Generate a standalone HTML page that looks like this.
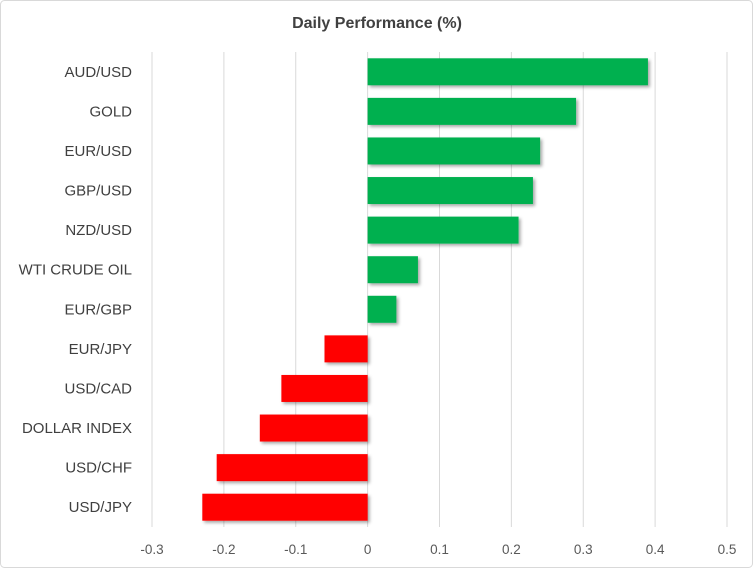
<!DOCTYPE html>
<html><head><meta charset="utf-8"><style>
html,body{margin:0;padding:0;background:#fff;}
svg{display:block;font-family:"Liberation Sans",Arial,sans-serif;}
</style></head><body>
<svg id="chart" width="753" height="568" xmlns="http://www.w3.org/2000/svg">
<defs><filter id="sh" x="-10%" y="-10%" width="130%" height="140%"><feDropShadow dx="2" dy="2" stdDeviation="1.5" flood-color="#000" flood-opacity="0.35"/></filter></defs>
<rect x="0.5" y="0.5" width="752" height="567" rx="4" fill="#fff" stroke="#d9d9d9"/>
<text x="377" y="28" text-anchor="middle" font-size="16" font-weight="bold" fill="#404040">Daily Performance  (%)</text>
<g id="grid"></g><g id="bars"></g><g id="labels"></g><g id="ticks"></g>
</svg>
<script>
const categories=["AUD/USD","GOLD","EUR/USD","GBP/USD","NZD/USD","WTI CRUDE OIL","EUR/GBP","EUR/JPY","USD/CAD","DOLLAR INDEX","USD/CHF","USD/JPY"];
const values=[0.39,0.29,0.24,0.23,0.21,0.07,0.04,-0.06,-0.12,-0.15,-0.21,-0.23];
const ticks=[-0.3,-0.2,-0.1,0,0.1,0.2,0.3,0.4,0.5];
const tickLabels=["-0.3","-0.2","-0.1","0","0.1","0.2","0.3","0.4","0.5"];
const NS="http://www.w3.org/2000/svg";
const x0=152,x1=727,vmin=-0.3,vmax=0.5,plotTop=52,plotBottom=527;
function xs(v){return x0+(v-vmin)/(vmax-vmin)*(x1-x0);}
const band=(plotBottom-plotTop)/categories.length;
function ys(i){return plotTop+band*i+band/2;}
function mk(t,a,p){const e=document.createElementNS(NS,t);for(const k in a)e.setAttribute(k,a[k]);p.appendChild(e);return e;}
const g=document.getElementById('grid'),b=document.getElementById('bars'),l=document.getElementById('labels'),tk=document.getElementById('ticks');
ticks.forEach((t,i)=>{
 const ln=mk('line',{x1:xs(t),x2:xs(t),y1:plotTop,y2:plotBottom,stroke:'#d9d9d9','stroke-width':1},g);
 
 
 const tx=mk('text',{x:xs(t),y:554,'text-anchor':'middle','font-size':13.5,fill:'#595959'},tk);
 tx.textContent=tickLabels[i];
 
 
});
categories.forEach((c,i)=>{
 const v=values[i],h=27;
 const r=mk('rect',{x:Math.min(xs(0),xs(v)),y:ys(i)-h/2,width:Math.abs(xs(v)-xs(0)),height:h,fill:v>=0?'#00b050':'#ff0000',filter:'url(#sh)'},b);
 
 
 const tx=mk('text',{x:132,y:ys(i)+5,'text-anchor':'end','font-size':15,fill:'#404040'},l);
 tx.textContent=c;
 
 
});
</script>
</body></html>
